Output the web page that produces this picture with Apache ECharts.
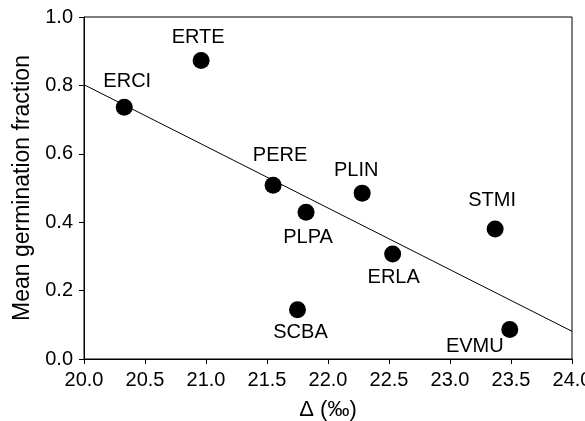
<!DOCTYPE html>
<html>
<head>
<meta charset="utf-8">
<script src="https://cdn.jsdelivr.net/npm/echarts@6/dist/echarts.min.js"></script>
<style>html,body{margin:0;padding:0;background:#fff;overflow:hidden;}#c{width:585px;height:421px;}</style>
</head>
<body>
<div id="c"></div>
<script>
var names = ['ERCI','ERTE','PERE','PLIN','PLPA','ERLA','STMI','SCBA','EVMU'];
var delta = [20.33, 20.96, 21.55, 22.28, 21.82, 22.53, 23.37, 21.75, 23.49];
var germ  = [0.736, 0.873, 0.508, 0.485, 0.429, 0.307, 0.380, 0.144, 0.086];
var fitX = [20.0, 24.0];
var fitY = [0.802, 0.081];
var xTicks = ['20.0','20.5','21.0','21.5','22.0','22.5','23.0','23.5','24.0'];
var yTicks = ['0.0','0.2','0.4','0.6','0.8','1.0'];

// label placement (style only)
var labelOffset = {
  ERCI: [3, -26], ERTE: [-3, -23], PERE: [7, -30], PLIN: [-6, -23],
  PLPA: [2, 25], ERLA: [1, 23], STMI: [-3, -29], SCBA: [3, 23], EVMU: [-35, 17]
};

var font = 'Liberation Sans, Arial, Helvetica, sans-serif';
var pts = names.map(function (n, i) {
  return {
    name: n,
    value: [delta[i], germ[i]],
    label: { offset: labelOffset[n] }
  };
});

var chart = echarts.init(document.getElementById('c'), null, { renderer: 'canvas' });
chart.setOption({
  animation: false,
  backgroundColor: '#fff',
  grid: { left: 84, right: 13, top: 17, bottom: 62, containLabel: false, outerBoundsMode: 'none',
    show: true, borderColor: '#000', borderWidth: 1 },
  xAxis: {
    type: 'value', min: 20, max: 24, interval: 0.5,
    name: 'Δ (‰)', nameLocation: 'middle', nameGap: 40,
    nameTextStyle: { fontFamily: font, fontSize: 22, color: '#000' },
    axisLine: { onZero: false, lineStyle: { color: '#000', width: 1 } },
    axisTick: { length: 5, lineStyle: { color: '#000' } },
    axisLabel: { margin: 11, fontFamily: font, fontSize: 20, color: '#000', hideOverlap: false,
      showMinLabel: true, showMaxLabel: true,
      formatter: function (v) { var s = v.toFixed(1); return xTicks.indexOf(s) >= 0 ? s : ''; } },
    splitLine: { show: false }
  },
  yAxis: {
    type: 'value', min: 0, max: 1, interval: 0.2,
    name: 'Mean germination fraction', nameLocation: 'middle', nameGap: 46,
    nameTextStyle: { fontFamily: font, fontSize: 23, color: '#000' },
    axisLine: { onZero: false, lineStyle: { color: '#000', width: 1 } },
    axisTick: { length: 5, lineStyle: { color: '#000' } },
    axisLabel: { margin: 11, fontFamily: font, fontSize: 20, color: '#000',
      formatter: function (v) { var s = v.toFixed(1); return yTicks.indexOf(s) >= 0 ? s : ''; } },
    splitLine: { show: false }
  },
  series: [
    {
      type: 'line',
      data: fitX.map(function (x, i) { return [x, fitY[i]]; }),
      showSymbol: false, symbol: 'none',
      lineStyle: { color: '#000', width: 1 },
      z: 1
    },
    {
      type: 'scatter',
      data: pts,
      symbol: 'circle', symbolSize: 17,
      itemStyle: { color: '#000', opacity: 1 },
      label: {
        show: true, position: 'inside', color: '#000',
        fontFamily: font, fontSize: 20, textBorderWidth: 0,
        formatter: function (p) { return p.name; }
      },
      z: 2
    }
  ]
});
</script>
</body>
</html>
